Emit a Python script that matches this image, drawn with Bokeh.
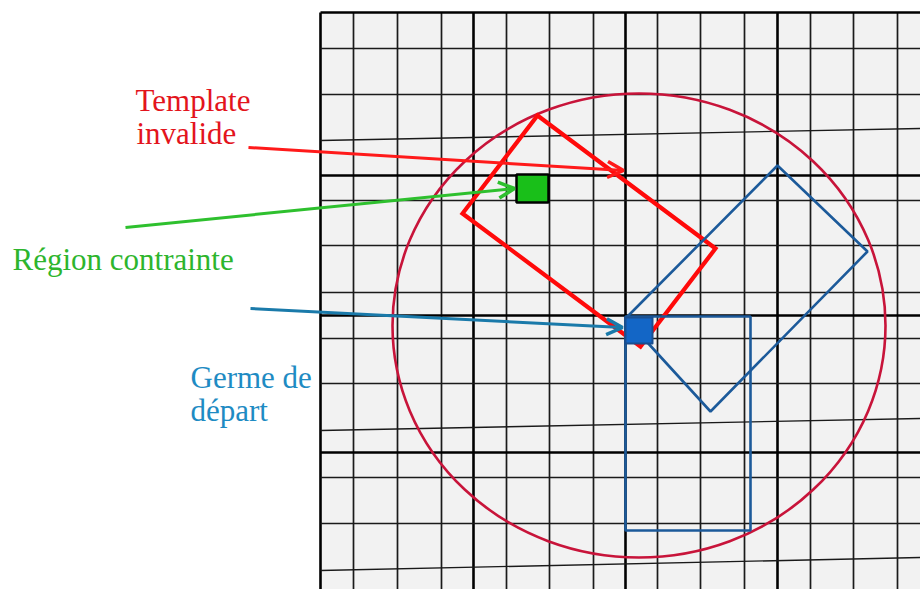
from bokeh.plotting import figure
from bokeh.models import Range1d, Arrow, OpenHead, ColumnDataSource
from bokeh.core.properties import value
from bokeh.embed import file_html
from bokeh.resources import INLINE

# ---- grid (reference pixel coordinates) ----
grid_left, grid_right, grid_top, grid_bottom = 320, 920, 12, 589
v_lines = [353, 397, 441, 506, 549, 593, 657, 700, 744, 810, 853, 897]
v_thick = [320, 473, 625, 777, 929]
h_lines = [48, 94, 200, 245, 292, 338, 383, 477, 523]
h_thick = [12, 175, 315, 452]
slant_y_left = [140, 430, 570]
slant_y_right = [128, 418, 557]

# ---- search circle ----
circle_x, circle_y, circle_w, circle_h = 638.5, 325, 493, 464

# ---- invalid template (red rotated rectangle) ----
red_tpl_x = [537, 715, 640, 462]
red_tpl_y = [115, 248, 346, 213]

# ---- blue templates ----
blue_rot_x = [777, 867, 710, 625]
blue_rot_y = [165, 251, 411, 318]
blue_rect_x = [625, 750, 750, 625]
blue_rect_y = [316, 316, 530, 530]

# ---- seeds ----
green_sq = dict(left=516, right=548, top=174, bottom=202)
blue_sq = dict(left=625, right=652, top=317, bottom=343)

# ---- arrows ----
arrow_x0 = [248, 125, 250]
arrow_y0 = [147, 227, 308]
arrow_x1 = [623, 514, 622]
arrow_y1 = [170, 188, 327]
arrow_colors = ["#ff1a1a", "#2ec02e", "#1a7aaa"]

# ---- labels ----
label_text = ["Template", "invalide", "Région contrainte", "Germe de", "départ"]
label_x = [135, 136, 12, 190, 190]
label_y = [100, 133, 259, 377, 410]
label_color = ["#e3141c", "#e3141c", "#2db52d", "#1e8bc3", "#1e8bc3"]

p = figure(width=920, height=589, x_range=Range1d(0, 920), y_range=Range1d(589, 0),
           output_backend="svg", toolbar_location=None, min_border=0,
           x_axis_location=None, y_axis_location=None)
p.grid.visible = False
p.outline_line_color = None
p.background_fill_color = "white"
p.border_fill_color = "white"

p.quad(left=[grid_left], right=[grid_right], top=[grid_top], bottom=[grid_bottom],
       fill_color="#f2f2f2", line_color=None)

gcol = "#1a1a1a"
p.segment(x0=v_lines, y0=[grid_top]*len(v_lines), x1=v_lines, y1=[grid_bottom]*len(v_lines),
          line_color=gcol, line_width=1.7)
p.segment(x0=v_thick, y0=[grid_top]*len(v_thick), x1=v_thick, y1=[grid_bottom]*len(v_thick),
          line_color="black", line_width=2.6)
p.segment(x0=[grid_left]*len(h_lines), y0=h_lines, x1=[grid_right]*len(h_lines), y1=h_lines,
          line_color=gcol, line_width=1.7)
p.segment(x0=[grid_left]*len(h_thick), y0=h_thick, x1=[grid_right]*len(h_thick), y1=h_thick,
          line_color="black", line_width=2.6)
p.segment(x0=[grid_left]*len(slant_y_left), y0=slant_y_left,
          x1=[grid_right]*len(slant_y_right), y1=slant_y_right,
          line_color=gcol, line_width=1.4)

p.ellipse(x=[circle_x], y=[circle_y], width=[circle_w], height=[circle_h],
          fill_color=None, line_color="#c8143a", line_width=2.6)

p.patch(red_tpl_x, red_tpl_y, fill_color=None, line_color="#ff0a0a", line_width=4.2,
        line_join="miter")
p.patch(blue_rot_x, blue_rot_y, fill_color=None, line_color="#1c5a9a", line_width=2.6)
p.patch(blue_rect_x, blue_rect_y, fill_color=None, line_color="#1c5a9a", line_width=2.6)

p.quad(left=[green_sq["left"]], right=[green_sq["right"]], top=[green_sq["top"]],
       bottom=[green_sq["bottom"]], fill_color="#19bf19", line_color="black", line_width=2.5)
p.quad(left=[blue_sq["left"]], right=[blue_sq["right"]], top=[blue_sq["top"]],
       bottom=[blue_sq["bottom"]], fill_color="#1366c6", line_color="#1a4f90", line_width=2,
       line_join="round")

for x0, y0, x1, y1, c in zip(arrow_x0, arrow_y0, arrow_x1, arrow_y1, arrow_colors):
    p.add_layout(Arrow(end=OpenHead(size=16, line_color=c, line_width=3.5),
                       x_start=x0, y_start=y0, x_end=x1, y_end=y1,
                       line_color=c, line_width=3))

src = ColumnDataSource(dict(x=label_x, y=label_y, t=label_text, c=label_color))
p.text(x="x", y="y", text="t", text_color="c", source=src,
       text_font=value("Liberation Serif"), text_font_size="31px",
       text_baseline="alphabetic", text_align="left")

open("out.html", "w").write(file_html(p, INLINE))
